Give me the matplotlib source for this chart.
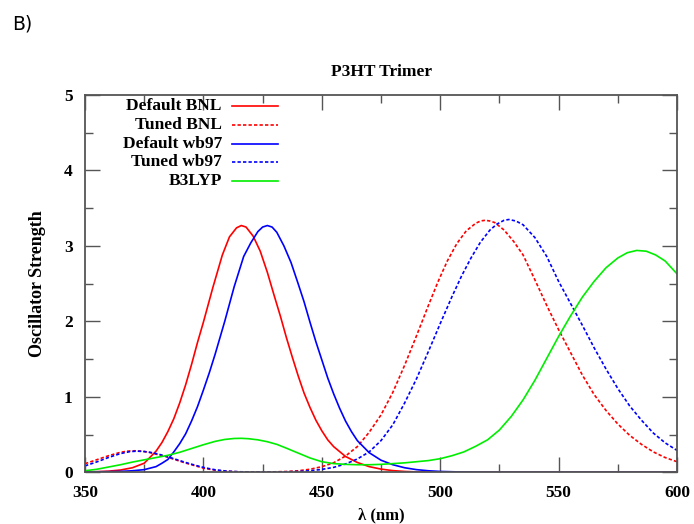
import matplotlib.pyplot as plt

# Absorption spectra of the P3HT trimer, oscillator strength vs wavelength (nm)

# Default BNL
bnl_x = [350, 355, 360, 365, 370, 375, 377.5, 380, 382.5, 385,
         387.5, 390, 392.5, 395, 397.5, 400, 404, 408, 411, 414,
         416, 418, 421, 424, 427, 430, 432.5, 435, 437.5, 440,
         442.5, 445, 447.5, 450, 452.5, 455, 460, 465, 470, 475,
         480, 485, 490, 500, 520, 600]
bnl_y = [0.005, 0.008, 0.015, 0.03, 0.06, 0.12, 0.20, 0.28, 0.395, 0.54,
         0.71, 0.92, 1.16, 1.43, 1.72, 1.99, 2.45, 2.88, 3.12, 3.24,
         3.27, 3.25, 3.13, 2.93, 2.65, 2.33, 2.07, 1.79, 1.53, 1.28,
         1.05, 0.86, 0.69, 0.55, 0.43, 0.34, 0.21, 0.13, 0.075, 0.042,
         0.022, 0.011, 0.005, 0.001, 0, 0]

# Tuned BNL
tbnl_x = [350, 355, 360, 365, 368, 371, 374, 377, 380, 384,
          388, 392, 396, 400, 405, 410, 415, 422, 430, 435,
          440, 445, 450, 455, 460, 465, 470, 475, 480, 485,
          490, 495, 499, 503, 507, 511, 515, 517, 519, 521,
          523, 527, 531, 535, 540, 545, 550, 555, 560, 565,
          570, 575, 580, 585, 590, 595, 600]
tbnl_y = [0.114, 0.167, 0.22, 0.265, 0.28, 0.285, 0.28, 0.265, 0.24, 0.209,
          0.168, 0.127, 0.091, 0.055, 0.027, 0.013, 0.006, 0.004, 0.006, 0.01,
          0.02, 0.04, 0.074, 0.126, 0.215, 0.34, 0.53, 0.76, 1.06, 1.42,
          1.81, 2.21, 2.52, 2.80, 3.03, 3.20, 3.30, 3.33, 3.34, 3.33,
          3.31, 3.21, 3.06, 2.88, 2.55, 2.21, 1.89, 1.59, 1.29, 1.03,
          0.82, 0.64, 0.49, 0.37, 0.27, 0.195, 0.14]

# Default wb97
wb_x = [350, 360, 365, 370, 375, 380, 382.5, 385, 387.5, 390,
        392.5, 395, 397.5, 400, 402.5, 405, 409, 413, 417, 420,
        423, 425, 427, 429, 431, 434, 437, 440, 442.5, 445,
        447.5, 450, 452.5, 455, 457.5, 460, 462.5, 465, 470, 475,
        480, 485, 490, 495, 500, 510, 520, 600]
wb_y = [0.005, 0.008, 0.012, 0.02, 0.035, 0.075, 0.12, 0.17, 0.27, 0.38,
        0.51, 0.68, 0.87, 1.09, 1.32, 1.57, 2.0, 2.46, 2.86, 3.04,
        3.19, 3.25, 3.27, 3.25, 3.18, 3.0, 2.78, 2.50, 2.26, 1.99,
        1.73, 1.49, 1.25, 1.04, 0.85, 0.68, 0.54, 0.42, 0.26, 0.16,
        0.10, 0.06, 0.035, 0.02, 0.011, 0.003, 0, 0]

# Tuned wb97
twb_x = [350, 355, 360, 365, 369, 372, 375, 378, 381, 385,
         389, 393, 397, 401, 405, 410, 415, 422, 430, 440,
         445, 450, 455, 460, 465, 470, 475, 480, 485, 490,
         495, 500, 505, 509, 513, 517, 521, 524, 527, 529,
         532, 535, 540, 545, 550, 555, 560, 565, 570, 575,
         580, 585, 590, 595, 600]
twb_y = [0.085, 0.138, 0.197, 0.248, 0.274, 0.28, 0.275, 0.262, 0.241, 0.205,
         0.165, 0.125, 0.089, 0.057, 0.033, 0.015, 0.007, 0.003, 0.003, 0.01,
         0.02, 0.038, 0.065, 0.11, 0.176, 0.27, 0.42, 0.63, 0.92, 1.24,
         1.6, 1.97, 2.33, 2.6, 2.84, 3.05, 3.21, 3.29, 3.34, 3.35,
         3.33, 3.28, 3.11, 2.86, 2.53, 2.24, 1.95, 1.65, 1.37, 1.11,
         0.88, 0.69, 0.52, 0.39, 0.29]

# B3LYP
b3_x = [350, 355, 360, 365, 370, 375, 380, 385, 390, 395,
        400, 405, 409, 413, 416, 419, 423, 427, 431, 435,
        440, 445, 450, 455, 460, 465, 470, 475, 480, 485,
        490, 495, 500, 505, 510, 515, 520, 525, 530, 535,
        540, 545, 550, 555, 560, 565, 570, 575, 579, 583,
        587, 591, 595, 600]
b3_y = [0.02, 0.04, 0.07, 0.10, 0.135, 0.165, 0.195, 0.225, 0.265, 0.315,
        0.365, 0.41, 0.435, 0.448, 0.45, 0.445, 0.43, 0.405, 0.37, 0.32,
        0.255, 0.19, 0.14, 0.115, 0.105, 0.1, 0.1, 0.105, 0.115, 0.125,
        0.14, 0.155, 0.18, 0.22, 0.27, 0.345, 0.43, 0.56, 0.74, 0.96,
        1.22, 1.51, 1.80, 2.07, 2.32, 2.53, 2.71, 2.84, 2.91, 2.94,
        2.93, 2.88, 2.80, 2.63]

labels = ['Default BNL', 'Tuned BNL', 'Default wb97', 'Tuned wb97', 'B3LYP']
xs = [bnl_x, tbnl_x, wb_x, twb_x, b3_x]
ys = [bnl_y, tbnl_y, wb_y, twb_y, b3_y]
colors = ['#ff0000', '#ff0000', '#0000ff', '#0000ff', '#00ee00']
dashed = (0, (2.0, 1.3))
styles = ['-', dashed, '-', dashed, '-']

serif = 'Liberation Serif'
axis_color = '#555555'

fig = plt.figure(figsize=(6.94, 5.24), dpi=100)
ax = fig.add_axes([0.1225, 0.0987, 0.853, 0.7200])

for x, y, c, ls in zip(xs, ys, colors, styles):
    ax.plot(x, y, color=c, ls=ls, lw=1.2)

ax.set_xlim(350, 600)
ax.set_ylim(0, 5)
ax.set_xticks(range(350, 601, 50))
ax.set_xticks(range(375, 600, 50), minor=True)
ax.set_yticks(range(0, 6))
ax.set_yticks([0.5, 1.5, 2.5, 3.5, 4.5], minor=True)
ax.tick_params(which='both', direction='in', top=True, right=True,
               color=axis_color, width=1.0)
ax.tick_params(which='major', length=10.5, pad=9)
ax.tick_params(which='minor', length=5.5)
for t in ax.get_xticklabels() + ax.get_yticklabels():
    t.set_fontfamily(serif)
    t.set_fontweight('bold')
    t.set_fontsize(12.5)
for s in ax.spines.values():
    s.set_color(axis_color)
    s.set_linewidth(1.3)

ax.set_title('P3HT Trimer', fontfamily=serif, fontweight='bold',
             fontsize=12.5, pad=14)
ax.set_xlabel('λ (nm)', fontfamily=serif, fontweight='bold',
              fontsize=12, labelpad=5)
ax.set_ylabel('Oscillator Strength', fontfamily=serif, fontweight='bold',
              fontsize=13, labelpad=13)

# gnuplot-style key: right-justified text, sample line to the right
key_y = [0.971, 0.920, 0.871, 0.822, 0.772]
for lab, c, ls, ky in zip(labels, colors, styles, key_y):
    ax.text(0.231, ky, lab, transform=ax.transAxes, ha='right', va='center',
            fontfamily=serif, fontweight='bold', fontsize=12.5)
    ax.plot([0.248, 0.326], [ky, ky], transform=ax.transAxes,
            color=c, ls=ls, lw=1.2)

fig.text(0.018, 0.955, 'B)', fontsize=13.5,
         family=['Liberation Sans Narrow', 'DejaVu Sans'], va='center')

fig.savefig('out.png', dpi=100)
